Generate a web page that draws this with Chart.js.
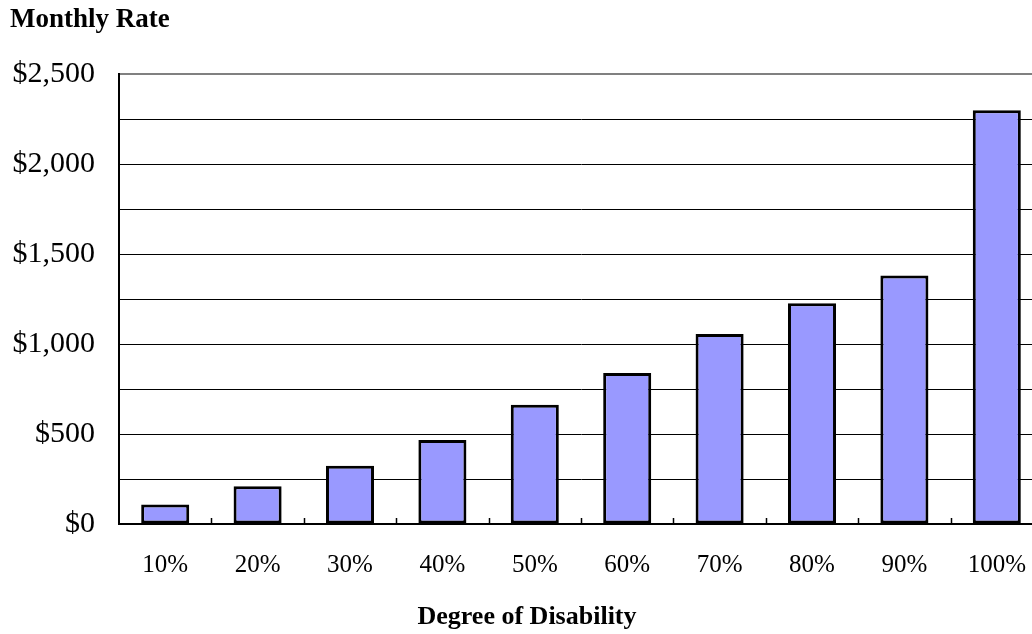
<!DOCTYPE html>
<html>
<head>
<meta charset="utf-8">
<script src="https://cdn.jsdelivr.net/npm/chart.js@4/dist/chart.umd.min.js"></script>
<style>
  html, body { margin: 0; padding: 0; background: #fff; }
  #wrap { width: 1032px; height: 634px; overflow: hidden; position: relative; }
  canvas { display: block; }
</style>
</head>
<body>
<div id="wrap"><canvas id="c" width="1060" height="634"></canvas></div>
<script>
// Degree of disability categories and monthly compensation rates (USD)
const categories = ['10%', '20%', '30%', '40%', '50%', '60%', '70%', '80%', '90%', '100%'];
const monthlyRates = [108, 210, 324, 466, 663, 839, 1056, 1227, 1380, 2299];
const yMax = 2500;
const yStep = 250;
const yLabelStep = 500;
const yTitle = 'Monthly Rate';
const xTitle = 'Degree of Disability';

const serif = '"Liberation Serif", "Times New Roman", serif';

// Titles and small upward tick marks between categories on the x axis
const decorations = {
  id: 'decorations',
  afterDraw(chart) {
    const ctx = chart.ctx;
    const x = chart.scales.x;
    const area = chart.chartArea;
    ctx.save();
    ctx.strokeStyle = '#000';
    ctx.lineWidth = 1.5;
    const half = (x.getPixelForValue(1) - x.getPixelForValue(0)) / 2;
    for (let i = 1; i < categories.length; i++) {
      const px = Math.round(x.getPixelForValue(i) - half) + 0.5;
      ctx.beginPath();
      ctx.moveTo(px, area.bottom);
      ctx.lineTo(px, area.bottom - 6);
      ctx.stroke();
    }
    ctx.fillStyle = '#000';
    ctx.font = 'bold 27px ' + serif;
    ctx.textBaseline = 'alphabetic';
    ctx.textAlign = 'left';
    ctx.fillText(yTitle, 10, 27);
    ctx.font = 'bold 26px ' + serif;
    ctx.textAlign = 'center';
    ctx.fillText(xTitle, 527, 624);
    ctx.restore();
  }
};

new Chart(document.getElementById('c'), {
  type: 'bar',
  data: {
    labels: categories,
    datasets: [{
      data: monthlyRates,
      backgroundColor: '#9999FF',
      borderColor: '#000',
      borderWidth: 3,
      borderSkipped: false,
      barPercentage: 0.52,
      categoryPercentage: 1.0
    }]
  },
  options: {
    responsive: false,
    devicePixelRatio: 1,
    animation: false,
    layout: { padding: { top: 74, right: 17, left: 0, bottom: 0 } },
    plugins: { legend: { display: false }, tooltip: { enabled: false }, title: { display: false } },
    scales: {
      x: {
        offset: true,
        grid: { display: false, drawTicks: false },
        border: { color: '#000', width: 2 },
        ticks: { color: '#000', font: { family: serif, size: 25 }, padding: 26, maxRotation: 0 },
        afterFit(scale) { scale.height = 110; }
      },
      y: {
        min: 0,
        max: yMax,
        grid: {
          drawTicks: false,
          color: (c) => (c.tick && c.tick.value === yMax ? '#808080' : '#000'),
          lineWidth: (c) => (c.tick && c.tick.value === yMax ? 2 : 1)
        },
        border: { color: '#000', width: 2 },
        ticks: {
          stepSize: yStep,
          color: '#000',
          padding: 24,
          font: { family: serif, size: 30 },
          callback: (v) => (v % yLabelStep === 0 ? '$' + v.toLocaleString('en-US') : '')
        },
        afterFit(scale) { scale.width = 119; }
      }
    }
  },
  plugins: [decorations]
});
</script>
</body>
</html>
